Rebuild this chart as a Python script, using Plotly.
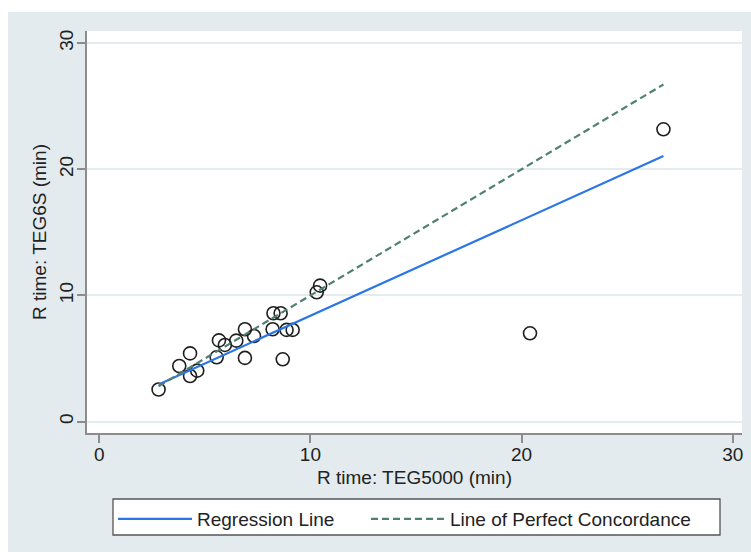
import plotly.graph_objects as go

teg5000 = [2.81, 3.79, 4.30, 4.30, 4.64, 5.56, 5.67, 5.95, 6.49, 6.90, 6.90, 7.33,
           8.21, 8.25, 8.59, 8.69, 8.87, 9.16, 10.30, 10.46, 20.40, 26.72]
teg6s = [2.55, 4.41, 5.41, 3.62, 4.04, 5.10, 6.44, 6.08, 6.42, 7.32, 5.05, 6.79,
         7.32, 8.59, 8.59, 4.94, 7.27, 7.27, 10.25, 10.78, 7.00, 23.17]

# Fitted regression line end points
reg_x = [2.81, 26.72]
reg_y = [2.95, 21.05]

# Line of perfect concordance (y = x)
conc_x = [2.81, 26.72]
conc_y = [2.81, 26.72]

ticks = [0, 10, 20, 30]
tick_labels = ["0", "10", "20", "30"]

FONT = "Liberation Sans, Arial, Helvetica, sans-serif"
W, H = 751, 552
L, R, T, B = 87, 9, 31, 119
pw, ph = W - L - R, H - T - B


def px_x(p):
    return (p - L) / pw


def px_y(p):
    return (H - B - p) / ph


fig = go.Figure()
fig.add_trace(go.Scatter(
    x=teg5000, y=teg6s, mode="markers", showlegend=False,
    marker=dict(symbol="circle-open", size=13, color="#1e1e1e",
                line=dict(width=1.6, color="#1e1e1e")),
))
fig.add_trace(go.Scatter(
    x=reg_x, y=reg_y, mode="lines", name="Regression Line", legend="legend",
    line=dict(color="#2a76e8", width=2.2),
))
fig.add_trace(go.Scatter(
    x=conc_x, y=conc_y, mode="lines", name="Line of Perfect Concordance",
    legend="legend2",
    line=dict(color="#50806f", width=2.2, dash="7px,4px"),
))

# white strips outside the grey outer region
fig.add_shape(type="rect", xref="paper", yref="paper",
              x0=px_x(0), x1=px_x(8), y0=px_y(H), y1=px_y(0),
              fillcolor="white", line=dict(width=0), layer="below")
fig.add_shape(type="rect", xref="paper", yref="paper",
              x0=px_x(0), x1=px_x(W), y0=px_y(12), y1=px_y(0),
              fillcolor="white", line=dict(width=0), layer="below")
# legend frame
fig.add_shape(type="rect", xref="paper", yref="paper",
              x0=px_x(113), x1=px_x(720), y0=px_y(535), y1=px_y(499),
              fillcolor="white", line=dict(width=1.3, color="#555555"),
              layer="below")

axis_common = dict(
    tickvals=ticks, ticktext=tick_labels, ticks="outside", ticklen=8,
    tickwidth=1.5, tickcolor="#8c8c8c", showline=True, linecolor="#8c8c8c",
    linewidth=2, zeroline=False,
    tickfont=dict(family=FONT, size=19, color="#222222"),
)

legend_common = dict(
    orientation="h", yanchor="top", xanchor="left", y=px_y(500),
    bgcolor="rgba(0,0,0,0)", borderwidth=0, itemwidth=74,
    font=dict(family=FONT, size=19, color="#222222"),
)

fig.update_layout(
    width=W, height=H,
    margin=dict(l=L, r=R, t=T, b=B, autoexpand=False),
    paper_bgcolor="#e3ebee", plot_bgcolor="white",
    font=dict(family=FONT, size=19, color="#222222"),
    xaxis=dict(range=[-0.58, 30.44], showgrid=False, ticklabelstandoff=-5,
               title=dict(text="R time: TEG5000 (min)", standoff=7,
                          font=dict(family=FONT, size=19, color="#222222")),
               **axis_common),
    yaxis=dict(range=[-0.9, 30.96], showgrid=True, gridcolor="#e3edf0",
               gridwidth=1.5, tickangle=-90, ticklabelstandoff=-4,
               title=dict(text="R time: TEG6S (min)", standoff=5,
                          font=dict(family=FONT, size=19, color="#222222")),
               **axis_common),
    legend=dict(x=px_x(113), **legend_common),
    legend2=dict(x=px_x(366), **legend_common),
)

fig.write_html("out.html")
